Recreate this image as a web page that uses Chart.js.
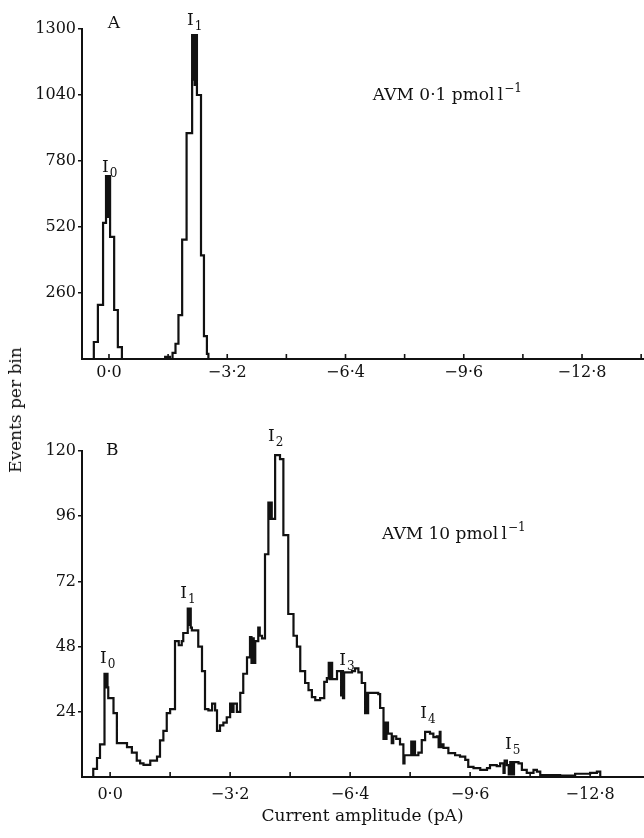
<!DOCTYPE html>
<html>
<head>
<meta charset="utf-8">
<script src="https://cdn.jsdelivr.net/npm/chart.js@4.4.1/dist/chart.umd.min.js"></script>
<style>
  html, body { margin: 0; padding: 0; background: #fff; }
  #wrap { position: relative; width: 644px; height: 838px; overflow: hidden; }
  canvas { position: absolute; left: 0; }
  #chartA { top: 0; }
  #chartB { top: 400px; }
  #ytitle {
    position: absolute; left: 15px; top: 410px;
    transform: translate(-50%, -50%) rotate(-90deg);
    font: 17px "DejaVu Serif"; color: #111; white-space: nowrap;
  }
</style>
</head>
<body>
<div id="wrap">
  <canvas id="chartA" width="644" height="400"></canvas>
  <canvas id="chartB" width="644" height="438"></canvas>
  <div id="ytitle">Events per bin</div>
</div>
<script>
// Panel A: AVM 0.1 pmol/l — bin left edge (pA) and events per bin
const ampA = [0.51, 0.41, 0.30, 0.16, 0.08, 0.05, 0.03, -0.03, -0.14, -0.24, -0.35,
  -1.52, -1.65, -1.72, -1.80, -1.88, -1.98, -2.10, -2.25, -2.27, -2.30, -2.32, -2.34,
  -2.38, -2.49, -2.57, -2.65, -2.69, -14.45];
const countsA = [0, 67, 213, 536, 721, 560, 721, 481, 193, 47, 0,
  8, 0, 24, 60, 173, 470, 890, 1276, 1100, 1276, 1080, 1276,
  1040, 408, 90, 20, 0, 0];

// Panel B: AVM 10 pmol/l
const ampB = [0.53, 0.45, 0.35, 0.27, 0.15, 0.12, 0.09, 0.07, 0.05, -0.09,
  -0.18, -0.45, -0.58, -0.71, -0.80, -0.89, -1.07, -1.25, -1.33, -1.42,
  -1.51, -1.60, -1.73, -1.83, -1.91, -1.95, -2.07, -2.09, -2.12, -2.15,
  -2.18, -2.35, -2.45, -2.53, -2.62, -2.72, -2.80, -2.85, -2.93, -3.02,
  -3.11, -3.20, -3.25, -3.29, -3.38, -3.47, -3.55, -3.65, -3.73, -3.77,
  -3.80, -3.83, -3.87, -3.95, -3.99, -4.05, -4.13, -4.22, -4.25, -4.28,
  -4.31, -4.40, -4.53, -4.62, -4.75, -4.89, -4.98, -5.07, -5.20, -5.29,
  -5.38, -5.47, -5.60, -5.71, -5.78, -5.83, -5.85, -5.88, -5.92, -6.05,
  -6.16, -6.19, -6.21, -6.24, -6.31, -6.45, -6.53, -6.62, -6.71, -6.80,
  -6.83, -6.85, -6.88, -7.15, -7.20, -7.29, -7.31, -7.34, -7.37, -7.41,
  -7.51, -7.55, -7.63, -7.73, -7.82, -7.85, -7.91, -8.00, -8.03, -8.05,
  -8.08, -8.13, -8.22, -8.31, -8.40, -8.53, -8.62, -8.71, -8.76, -8.79,
  -8.81, -8.85, -8.89, -9.02, -9.20, -9.33, -9.47, -9.55, -9.69, -9.87,
  -10.05, -10.13, -10.31, -10.40, -10.49, -10.52, -10.58, -10.63, -10.67, -10.72,
  -10.77, -10.89, -10.98, -11.11, -11.25, -11.29, -11.38, -11.47, -11.73, -12.00,
  -12.40, -12.80, -12.98, -13.07, -14.21];
const countsB = [0, 3, 7, 12, 38, 33, 38, 33, 29, 23.5,
  12.5, 11, 9, 6, 5, 4.5, 6, 7.5, 13.5, 17,
  23.5, 25, 50, 48.5, 50, 53, 62, 56, 62, 55,
  54, 48, 39, 25, 24.5, 27, 24.5, 17, 19, 20,
  22, 27, 24, 27, 24, 31, 38, 44, 51.5, 42,
  51, 42, 50, 55, 52, 51, 82, 101, 95, 101,
  95, 118.5, 117, 89, 60, 52, 48, 39, 34.6, 32,
  29.4, 28.3, 29, 35, 36.4, 42, 36, 42, 36, 39,
  30, 39, 29, 38.5, 38.5, 39, 40, 38.5, 34.6, 23.5,
  31, 23.5, 31, 30.5, 25.4, 14, 20, 14, 20, 16,
  12.5, 15, 14, 12, 5, 8, 8, 8, 13, 8,
  13, 8, 9, 13.6, 16.6, 16, 14.7, 15, 11, 16.6,
  11, 12, 10.7, 8.8, 8, 7.5, 6.3, 3.7, 3.3, 2.6,
  3.3, 4.4, 4, 5, 1.5, 6, 4.4, 1, 5.5, 1,
  5.5, 5, 2.6, 1.5, 1.5, 2.6, 2, 0.7, 0.7, 0.5,
  1.2, 1.5, 2, 0, 0];

// axis ticks
const xLabelTicks = [0, -3.2, -6.4, -9.6, -12.8];
const xMarkTicks = [0, -1.6, -3.2, -4.8, -6.4, -8.0, -9.6, -11.2, -12.8, -14.4];

// text labels on the plots, in data units
const notesA = [
  { text: "A", x: 0.03, y: 1304 },
  { text: "I", sub: "1", x: -2.11, y: 1316 },
  { text: "I", sub: "0", x: 0.19, y: 737 },
  { text: "AVM 0·1 pmol\u2009l", sup: "−1", x: -7.14, y: 1020 },
];
const notesB = [
  { text: "B", x: 0.11, y: 118.5 },
  { text: "I", sub: "2", x: -4.21, y: 123.7 },
  { text: "I", sub: "1", x: -1.87, y: 65.9 },
  { text: "I", sub: "0", x: 0.27, y: 42 },
  { text: "AVM 10 pmol\u2009l", sup: "−1", x: -7.25, y: 87.6 },
  { text: "I", sub: "3", x: -6.11, y: 41.2 },
  { text: "I", sub: "4", x: -8.27, y: 21.7 },
  { text: "I", sub: "5", x: -10.53, y: 10.3 },
];

const INK = "#111";
const SERIF = "DejaVu Serif";

function fmtAmp(v) {
  if (Math.abs(v) < 1e-9) return "0·0";
  return (v < 0 ? "−" : "") + Math.abs(v).toFixed(1).replace(".", "·");
}

// small tick marks pointing up into the plot
const innerTicks = {
  id: "innerTicks",
  afterDraw(chart) {
    const { ctx, chartArea } = chart;
    const x = chart.scales.x;
    ctx.save();
    ctx.strokeStyle = INK;
    ctx.lineWidth = 1.6;
    xMarkTicks.forEach((v) => {
      if (v < x.min || v > x.max) return;
      const px = x.getPixelForValue(v);
      ctx.beginPath();
      ctx.moveTo(px, chartArea.bottom);
      ctx.lineTo(px, chartArea.bottom - 5);
      ctx.stroke();
    });
    ctx.restore();
  },
};

const notes = {
  id: "notes",
  afterDraw(chart, args, opts) {
    const { ctx } = chart;
    const { x, y } = chart.scales;
    ctx.save();
    ctx.fillStyle = INK;
    ctx.textBaseline = "alphabetic";
    ctx.textAlign = "left";
    (opts.items || []).forEach((n) => {
      const px = x.getPixelForValue(n.x);
      const py = y.getPixelForValue(n.y);
      ctx.font = `17px "${SERIF}"`;
      ctx.fillText(n.text, px, py);
      const w = ctx.measureText(n.text).width;
      ctx.font = `12px "${SERIF}"`;
      if (n.sub) ctx.fillText(n.sub, px + w + 1, py + 5);
      if (n.sup) ctx.fillText(n.sup, px + w + 1, py - 8);
    });
    ctx.restore();
  },
};

function makeChart(id, amps, counts, items, cfg) {
  const ctx = document.getElementById(id).getContext("2d");
  return new Chart(ctx, {
    type: "line",
    data: {
      datasets: [
        {
          data: amps.map((a, i) => ({ x: a, y: counts[i] })),
          stepped: true,
          borderColor: INK,
          borderWidth: 2.2,
          pointRadius: 0,
          fill: false,
        },
      ],
    },
    options: {
      responsive: false,
      animation: false,
      layout: { padding: { top: cfg.padTop, left: 0, right: 1, bottom: 0 } },
      plugins: {
        legend: { display: false },
        tooltip: { enabled: false },
        notes: { items: items },
      },
      scales: {
        x: {
          type: "linear",
          reverse: true,
          min: cfg.xMin,
          max: cfg.xMax,
          afterBuildTicks: (s) => {
            s.ticks = xLabelTicks.map((v) => ({ value: v }));
          },
          afterFit: (s) => {
            s.height = cfg.xHeight;
          },
          ticks: {
            autoSkip: false,
            maxRotation: 0,
            padding: cfg.xLabelPad,
            color: INK,
            font: { family: SERIF, size: 16 },
            callback: (v) => fmtAmp(v),
          },
          grid: { display: true, drawOnChartArea: false, drawTicks: false },
          border: { display: true, color: INK, width: 2 },
          title: cfg.xTitle
            ? {
                display: true,
                text: cfg.xTitle,
                color: INK,
                font: { family: SERIF, size: 17 },
                padding: { top: 0, bottom: 11 },
              }
            : { display: false },
        },
        y: {
          min: 0,
          max: cfg.yMax,
          afterBuildTicks: (s) => {
            s.ticks = s.ticks.filter((t) => t.value !== 0);
          },
          afterFit: (s) => {
            s.width = 82;
          },
          ticks: {
            stepSize: cfg.yStep,
            padding: 2,
            color: INK,
            font: { family: SERIF, size: 16 },
            callback: (v) => String(v),
          },
          grid: {
            display: true,
            drawOnChartArea: false,
            drawTicks: true,
            tickLength: 4,
            color: INK,
            lineWidth: 1.5,
          },
          border: { display: true, color: INK, width: 2 },
        },
      },
    },
    plugins: [innerTicks, notes],
  });
}

makeChart("chartA", ampA, countsA, notesA, {
  xMin: -14.45, xMax: 0.73, yMax: 1300, yStep: 260,
  padTop: 29, xHeight: 41, xLabelPad: 4,
});

makeChart("chartB", ampB, countsB, notesB, {
  xMin: -14.21, xMax: 0.75, yMax: 120, yStep: 24,
  padTop: 51, xHeight: 61, xLabelPad: 8,
  xTitle: "Current amplitude (pA)",
});
</script>
</body>
</html>
